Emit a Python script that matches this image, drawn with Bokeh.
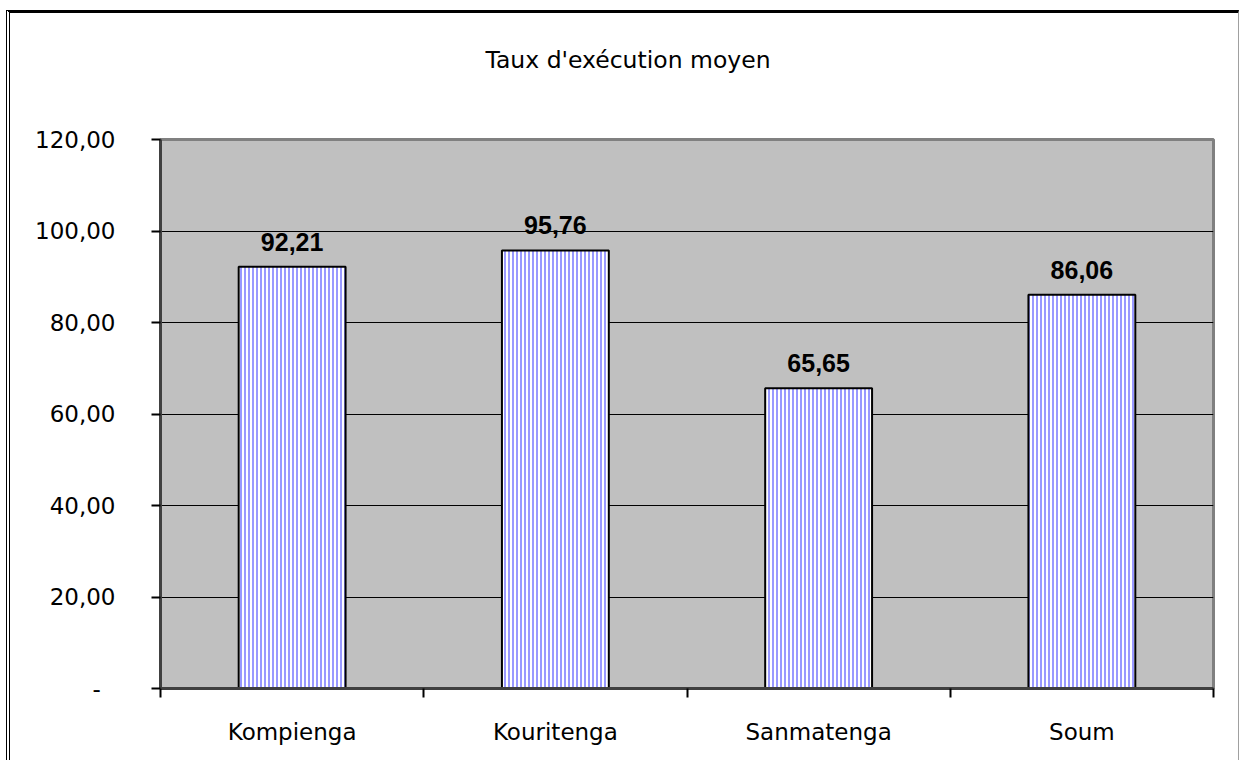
from bokeh.plotting import figure
from bokeh.models import ColumnDataSource, Range1d, FixedTicker, LabelSet, LinearAxis, Title
from bokeh.core.properties import value
from bokeh.embed import file_html
from bokeh.resources import INLINE

# ---- data ----
categories = ["Kompienga", "Kouritenga", "Sanmatenga", "Soum"]
values = [92.21, 95.76, 65.65, 86.06]
value_labels = ["92,21", "95,76", "65,65", "86,06"]
y_ticks = [0, 20, 40, 60, 80, 100, 120]
y_tick_labels = ["-\u00a0\u00a0", "20,00", "40,00", "60,00", "80,00", "100,00", "120,00"]
title_text = "Taux d'exécution moyen"

n = len(categories)
xs = [i + 0.5 for i in range(n)]
src = ColumnDataSource(dict(x=xs, top=values, label=value_labels, cat=categories))

W, H = 1233, 750
p = figure(width=W, height=H, output_backend="svg", toolbar_location=None,
           x_range=Range1d(0, n), y_range=Range1d(0, 120),
           min_border_left=150, min_border_right=30, min_border_top=126,
           min_border_bottom=75, title=None)
p.styles = {"border-left": "4px double black", "border-top": "3px solid black",
            "border-right": "1px solid #a0a0a0",
            "margin-left": "6px", "margin-top": "10px"}

# invisible spacer axis above the frame (pushes the title up)
spacer = LinearAxis(ticker=FixedTicker(ticks=[0]), major_tick_out=66,
                    major_tick_in=0, major_tick_line_color=None,
                    minor_tick_line_color=None, axis_line_color=None,
                    major_label_standoff=0, major_label_text_font_size="1px",
                    major_label_text_alpha=0)
p.add_layout(spacer, "above")

title = Title(text=title_text, text_font="DejaVu Sans", text_font_size="23.5px",
              text_font_style="normal", text_color="black", align="left",
              vertical_align="bottom", standoff=0, offset=325)
p.add_layout(title, "above")

p.background_fill_color = "#C0C0C0"
p.border_fill_color = "white"
p.outline_line_color = "#808080"
p.outline_line_width = 3

# grid
p.xgrid.grid_line_color = None
p.ygrid.ticker = FixedTicker(ticks=y_ticks)
p.ygrid.grid_line_color = "black"
p.ygrid.grid_line_width = 1

# bars
p.vbar(x="x", top="top", bottom=0, width=0.406, source=src,
       fill_color="white", line_color="black", line_width=2,
       hatch_pattern="vertical_line", hatch_color="#9999FF",
       hatch_scale=4, hatch_weight=2)

# value labels
p.add_layout(LabelSet(x="x", y="top", text="label", source=src,
                      y_offset=25, text_align="center", text_baseline="middle",
                      text_font=value("Liberation Sans"), text_font_style="bold",
                      text_font_size="25px", text_color="black"))

# x axis
xa = p.below[0]
xa.ticker = FixedTicker(ticks=xs, minor_ticks=list(range(n + 1)))
xa.major_label_overrides = {x: c for x, c in zip(xs, categories)}
xa.major_tick_line_color = None
xa.minor_tick_line_color = "black"
xa.minor_tick_line_width = 2
xa.minor_tick_out = 9
xa.minor_tick_in = 0
xa.axis_line_color = "#404040"
xa.axis_line_width = 3
xa.major_label_standoff = 21
xa.major_label_text_font = "DejaVu Sans"
xa.major_label_text_font_size = "23px"
xa.major_label_text_color = "black"

# y axis
ya = p.left[0]
ya.ticker = FixedTicker(ticks=y_ticks)
ya.major_label_overrides = {t: l for t, l in zip(y_ticks, y_tick_labels)}
ya.minor_tick_line_color = None
ya.major_tick_line_color = "black"
ya.major_tick_line_width = 2
ya.major_tick_out = 9
ya.major_tick_in = 0
ya.axis_line_color = "#404040"
ya.axis_line_width = 3
ya.major_label_standoff = 36
ya.major_label_text_font = "DejaVu Sans"
ya.major_label_text_font_size = "23px"
ya.major_label_text_color = "black"

open("out.html", "w").write(file_html(p, INLINE))
